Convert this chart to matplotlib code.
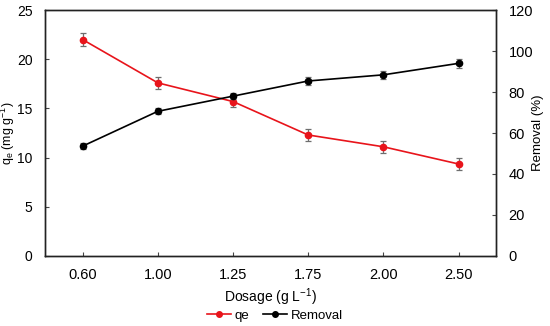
import matplotlib
matplotlib.use("Agg")
import matplotlib.pyplot as plt
from matplotlib.lines import Line2D
import numpy as np

plt.rcParams["font.family"] = ["Liberation Sans", "DejaVu Sans"]
plt.rcParams["mathtext.fontset"] = "custom"
plt.rcParams["mathtext.rm"] = "Liberation Sans"
plt.rcParams["mathtext.it"] = "Liberation Sans:italic"
plt.rcParams["mathtext.default"] = "regular"

# data
dosage = ["0.60", "1.00", "1.25", "1.75", "2.00", "2.50"]
qe = [22.0, 17.6, 15.7, 12.3, 11.1, 9.35]
qe_err = [0.65, 0.6, 0.6, 0.6, 0.6, 0.6]
removal = [53.6, 70.6, 78.0, 85.4, 88.4, 94.0]
removal_err = [1.3, 1.5, 1.6, 1.8, 1.8, 2.2]

x = np.arange(len(dosage))

fig, ax = plt.subplots(figsize=(5.5, 3.26), dpi=100)
fig.subplots_adjust(left=0.082, right=0.902, top=0.969, bottom=0.215)
ax2 = ax.twinx()

ax.errorbar(x, qe, yerr=qe_err, color="#e8141b", marker="o", markersize=4.5, lw=1.2,
            ecolor="#6e6e6e", elinewidth=0.9, capsize=2.5, capthick=0.9, zorder=3)
ax2.errorbar(x, removal, yerr=removal_err, color="black", marker="o", markersize=4.5, lw=1.2,
             ecolor="#6e6e6e", elinewidth=0.9, capsize=2.5, capthick=0.9, zorder=3)

ax.set_xlim(-0.5, len(dosage) - 0.5)
ax.set_ylim(0, 25)
ax2.set_ylim(0, 120)
ax.set_xticks(x)
ax.set_xticklabels(dosage)
ax.set_yticks([0, 5, 10, 15, 20, 25])
ax2.set_yticks([0, 20, 40, 60, 80, 100, 120])

for a in (ax, ax2):
    a.tick_params(direction="in", length=3, labelsize=10.5, width=0.8, color="#444444")
    for s in a.spines.values():
        s.set_linewidth(1.0)
        s.set_color("#222222")
ax.tick_params(axis="x", pad=9)
ax.tick_params(axis="y", pad=9, labelsize=10)
ax2.tick_params(axis="y", pad=9)

ax.set_xlabel("Dosage (g L$^{-1}$)", fontsize=10)
ax.set_ylabel("q$_e$ (mg g$^{-1}$)", fontsize=9)
ax2.set_ylabel("Removal (%)", fontsize=9.5)
ax.xaxis.set_label_coords(0.5, -0.125)
ax.yaxis.set_label_coords(-0.063, 0.5)
ax2.yaxis.set_label_coords(1.08, 0.5)

handles = [Line2D([], [], color="#e8141b", marker="o", markersize=4, lw=1.2),
           Line2D([], [], color="black", marker="o", markersize=4, lw=1.2)]
fig.legend(handles, ["qe", "Removal"], loc="center", ncol=2, frameon=False, fontsize=9.5,
           bbox_to_anchor=(0.5, 0.032), handlelength=1.8, columnspacing=1.0, handletextpad=0.3)

plt.savefig("out.png", dpi=100)
